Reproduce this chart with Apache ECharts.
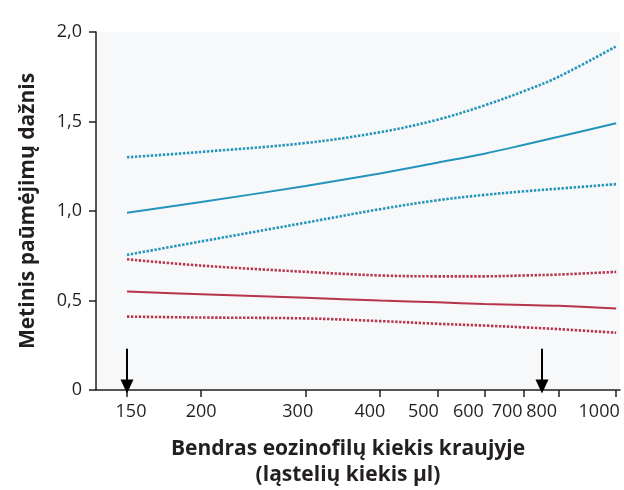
<!DOCTYPE html>
<html>
<head>
<meta charset="utf-8">
<script src="https://cdn.jsdelivr.net/npm/echarts@6/dist/echarts.min.js"></script>
<style>
  html, body { margin: 0; padding: 0; background: #ffffff; }
  #chart { width: 624px; height: 490px; }
</style>
</head>
<body>
<div id="chart"></div>
<script>
// Eosinophil count (cells/µl) on a log axis
const eosCounts = [150, 200, 300, 400, 500, 600, 700, 800, 1000];
const xTicks = [150, 200, 300, 400, 500, 600, 700, 800, 1000];
const yTicks = [0, 0.5, 1.0, 1.5, 2.0];

// Blue group: estimate with upper / lower bounds
const blueMid   = [0.99, 1.05, 1.14, 1.21, 1.27, 1.32, 1.37, 1.415, 1.49];
const blueUpper = [1.30, 1.33, 1.38, 1.44, 1.51, 1.59, 1.67, 1.75, 1.92];
const blueLower = [0.755, 0.83, 0.935, 1.01, 1.06, 1.09, 1.11, 1.125, 1.15];

// Red group: estimate with upper / lower bounds
const redMid   = [0.55, 0.535, 0.515, 0.50, 0.49, 0.48, 0.475, 0.47, 0.455];
const redUpper = [0.73, 0.695, 0.66, 0.64, 0.635, 0.635, 0.64, 0.645, 0.66];
const redLower = [0.41, 0.405, 0.40, 0.385, 0.37, 0.36, 0.35, 0.34, 0.32];

// Threshold markers (arrows pointing at the x axis)
const arrowCounts = [150, 750];
const arrowFrom = 0.23;
const arrowTo = 0.02;

const BLUE = '#2494bb';
const RED = '#b8344c';
const INK = '#231f20';
const FONT = '"Open Sans", sans-serif';

const pairs = (ys) => eosCounts.map((x, i) => [x, ys[i]]);

// Horizontal nudge of each tick label (px, negative = to the left)
const labelNudge = { 150: 4, 200: 0, 300: -8, 400: -10, 500: -14, 600: -16, 700: -17, 800: -17, 1000: -17 };
const richLabels = {};
Object.keys(labelNudge).forEach((k) => {
  const d = labelNudge[k];
  richLabels['t' + k] = {
    fontFamily: FONT, fontSize: 18, color: INK,
    padding: d < 0 ? [0, -2 * d, 0, 0] : [0, 0, 0, 2 * d]
  };
});

function curve(ys, color, dotted) {
  return {
    type: 'line',
    data: pairs(ys),
    showSymbol: false,
    smooth: 0.35,
    silent: true,
    lineStyle: dotted
      ? { color: color, width: 2.6, type: [2.4, 1.6], cap: 'butt' }
      : { color: color, width: 2 }
  };
}

const chart = echarts.init(document.getElementById('chart'), null, { renderer: 'canvas' });

chart.setOption({
  animation: false,
  backgroundColor: '#ffffff',
  grid: {
    left: 96, right: 4, top: 32, bottom: 100,
    outerBoundsMode: 'none',
    containLabel: false,
    show: true, backgroundColor: '#f6f8f9', borderWidth: 0
  },
  xAxis: {
    type: 'log',
    logBase: 10,
    min: 133,
    max: 1015,
    name: 'Bendras eozinofilų kiekis kraujyje\n(ląstelių kiekis µl)',
    nameLocation: 'middle',
    nameGap: 46,
    nameTextStyle: {
      fontFamily: FONT, fontSize: 21, fontWeight: 'bold', color: INK,
      lineHeight: 26, padding: [0, 20, 0, 0]
    },
    axisLine: { show: true, lineStyle: { color: INK, width: 1.5 } },
    axisTick: { show: true, length: 7, lineStyle: { color: INK, width: 1.5 }, customValues: xTicks },
    axisLabel: {
      customValues: xTicks,
      margin: 13,
      fontFamily: FONT, fontSize: 18, color: INK,
      formatter: (v) => {
        const n = Math.round(v);
        return '{t' + n + '|' + n + '}';
      },
      rich: richLabels
    },
    splitLine: { show: false },
    minorTick: { show: false }
  },
  yAxis: {
    type: 'value',
    min: yTicks[0],
    max: yTicks[yTicks.length - 1],
    interval: 0.5,
    name: 'Metinis paūmėjimų dažnis',
    nameLocation: 'middle',
    nameGap: 57,
    nameTextStyle: { fontFamily: FONT, fontSize: 21, fontWeight: 'bold', color: INK },
    axisLine: { show: true, lineStyle: { color: INK, width: 1.5 } },
    axisTick: { show: true, length: 7, lineStyle: { color: INK, width: 1.5 } },
    axisLabel: {
      margin: 14,
      fontFamily: FONT, fontSize: 18, color: INK,
      formatter: (v) => (v === 0 ? '0' : v.toFixed(1).replace('.', ','))
    },
    splitLine: { show: false }
  },
  series: [
    curve(blueUpper, BLUE, true),
    curve(blueMid, BLUE, false),
    curve(blueLower, BLUE, true),
    curve(redUpper, RED, true),
    curve(redMid, RED, false),
    curve(redLower, RED, true),
    {
      type: 'line',
      data: [],
      silent: true,
      markLine: {
        silent: true,
        animation: false,
        symbol: ['none', 'triangle'],
        symbolSize: [13, 14],
        label: { show: false },
        lineStyle: { color: '#000000', width: 2, type: 'solid' },
        data: arrowCounts.map((x) => [
          { coord: [x, arrowFrom] },
          { coord: [x, arrowTo] }
        ])
      }
    }
  ]
});
</script>
</body>
</html>
